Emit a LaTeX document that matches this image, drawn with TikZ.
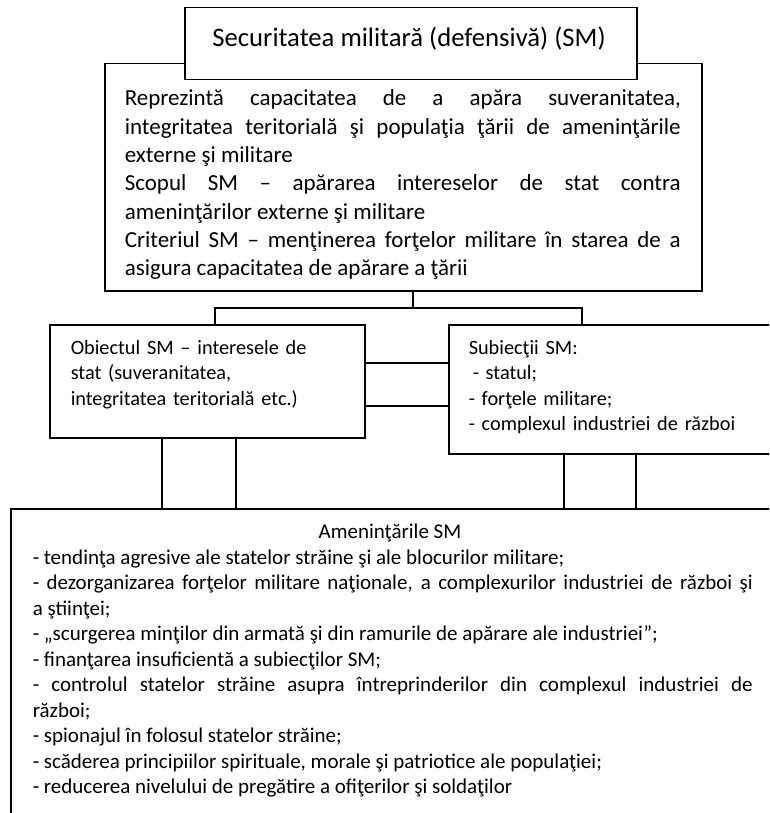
\documentclass[tikz,border=0pt]{standalone}
\usepackage{fontspec}
\setmainfont{Carlito}
\usetikzlibrary{positioning, calc}

\tikzset{
  box/.style={draw, rectangle, inner sep=0pt, anchor=north west},
  body/.style={anchor=base west, inner sep=0pt, align=justify},
}

\begin{document}
\begin{tikzpicture}[x=1pt, y=-1pt, line width=1.5pt]
  \useasboundingbox (0,0) rectangle (769,813);
  \clip (0,0) rectangle (769,813);

  % Definition box, title on top of it
  \node[box, minimum width=597, minimum height=227] (defbox) at (104,63) {};
  \node[body, text width=556, font=\fontsize{23}{28.3}\selectfont] (deftext) at (124,106) {Reprezintă capacitatea de a apăra suveranitatea,\linebreak integritatea teritorială şi populaţia ţării de ameninţările\linebreak externe şi militare\par Scopul SM – apărarea intereselor de stat contra\linebreak ameninţărilor externe şi militare\par Criteriul SM – menţinerea forţelor militare în starea de a\linebreak asigura capacitatea de apărare a ţării};
  \node[box, fill=white, minimum width=452, minimum height=72] (title) at (184,7) {};
  \node[anchor=base, inner sep=0pt, font=\fontsize{26.7}{32}\selectfont] (titletext) at (409,47) {Securitatea militară (defensivă) (SM)};

  % Object and subjects
  \node[box, minimum width=315, minimum height=113] (objbox) at (49,324) {};
  \node[body, text width=290, align=left, font=\fontsize{20.3}{25.5}\selectfont] (objtext) at (70,354) {Obiectul SM – interesele de\\stat (suveranitatea,\\integritatea teritorială etc.)};
  \node[box, minimum width=324, minimum height=129] (subjbox) at (448,324) {};
  \node[body, text width=300, align=left, font=\fontsize{20.3}{25.5}\selectfont] (subjtext) at (468,354) {Subiecţii SM:\\\hspace*{4pt}- statul;\\- forţele militare;\\- complexul industriei de război};

  % Threats
  \node[box, minimum width=760, minimum height=330] (threatbox) at (10,508) {};
  \node[anchor=base, inner sep=0pt, font=\fontsize{21}{25.5}\selectfont] (threathead) at (390,538) {Ameninţările SM};
  \node[body, text width=720, font=\fontsize{21}{25.5}\selectfont] (threattext) at (32,564) {- tendinţa agresive ale statelor străine şi ale blocurilor militare;\par - dezorganizarea forţelor militare naţionale, a complexurilor industriei de război şi\linebreak a ştiinţei;\par - „scurgerea minţilor din armată şi din ramurile de apărare ale industriei”;\par - finanţarea insuficientă a subiecţilor SM;\par - controlul statelor străine asupra întreprinderilor din complexul industriei de\linebreak război;\par - spionajul în folosul statelor străine;\par - scăderea principiilor spirituale, morale şi patriotice ale populaţiei;\par - reducerea nivelului de pregătire a ofiţerilor şi soldaţilor};

  % Connectors
  \coordinate (fork) at (413,308);
  \draw (defbox.south -| fork) -- (fork);
  \draw (objbox.north -| 215,0) |- (fork) -| (subjbox.north -| 582,0);
  \foreach \y in {363,406}
    \draw (objbox.east |- 0,\y) -- (subjbox.west |- 0,\y);
  \foreach \x in {162,236}
    \draw (objbox.south -| \x,0) -- (threatbox.north -| \x,0);
  \foreach \x in {564,636}
    \draw (subjbox.south -| \x,0) -- (threatbox.north -| \x,0);
\end{tikzpicture}
\end{document}
